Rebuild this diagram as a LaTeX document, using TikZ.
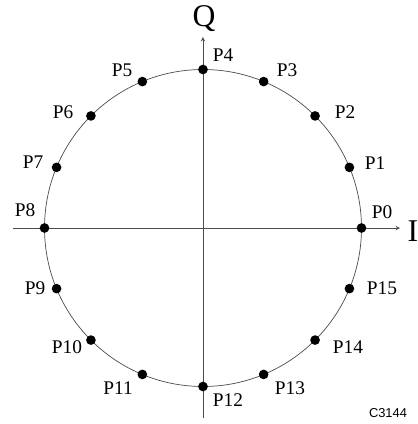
\documentclass[tikz,border=0pt]{standalone}
\usepackage{tikz}
\usepackage{xcolor}
\usepackage{fontspec}
\setmainfont{Liberation Serif}
\newfontfamily\sansfam{Liberation Sans}
\newcommand{\LP}{\fontsize{16.5}{19}\selectfont}
\newcommand{\LA}{\fontsize{27}{30}\selectfont}

\begin{document}
\begin{tikzpicture}
\tikzstyle{texto}=[draw=none,fill=none,black,font=\LP,inner sep=0pt]
\tikzstyle{eixo}=[draw=none,fill=none,black,font=\LA,inner sep=0pt]
\tikzstyle{line}=[black!70!white,line width=0.7pt]
\tikzstyle{dot}=[circle,fill=black,inner sep=0pt,minimum size=0.29cm]

\useasboundingbox (-6.09,-5.88) rectangle (6.45,6.84);

% axes
\coordinate (west) at (-5.70,0);
\coordinate (east) at (5.91,0);
\coordinate (south) at (0,-5.70);
\coordinate (north) at (0,5.73);
\draw[line,-stealth] (west) -- (east);
\draw[line,-stealth] (south) -- (north);
\draw[line,line width=0.6pt] (0,0) circle (4.755);

\node[eixo] (eI) at (6.30,-0.09) {I};
\node[eixo] (eQ) at (0.03,6.28) {Q};

% points
\node[dot] (p0)  at (0:4.755) {};
\node[dot] (p1)  at (22.5:4.755) {};
\node[dot] (p2)  at (45:4.755) {};
\node[dot] (p3)  at (67.5:4.755) {};
\node[dot] (p4)  at (90:4.755) {};
\node[dot] (p5)  at (112.5:4.755) {};
\node[dot] (p6)  at (135:4.755) {};
\node[dot] (p7)  at (157.5:4.755) {};
\node[dot] (p8)  at (180:4.755) {};
\node[dot] (p9)  at (202.5:4.755) {};
\node[dot] (p10) at (225:4.755) {};
\node[dot] (p11) at (247.5:4.755) {};
\node[dot] (p12) at (270:4.755) {};
\node[dot] (p13) at (292.5:4.755) {};
\node[dot] (p14) at (315:4.755) {};
\node[dot] (p15) at (337.5:4.755) {};

% labels
\node[texto] (l0)  at (5.37,0.48)   {P0};
\node[texto] (l1)  at (5.16,1.95)   {P1};
\node[texto] (l2)  at (4.26,3.48)   {P2};
\node[texto] (l3)  at (2.52,4.74)   {P3};
\node[texto] (l4)  at (0.60,5.19)   {P4};
\node[texto] (l5)  at (-2.43,4.74)  {P5};
\node[texto] (l6)  at (-4.20,3.48)  {P6};
\node[texto] (l7)  at (-5.10,1.98)  {P7};
\node[texto] (l8)  at (-5.34,0.54)  {P8};
\node[texto] (l9)  at (-5.04,-1.80) {P9};
\node[texto] (l10) at (-4.08,-3.57) {P10};
\node[texto] (l11) at (-2.55,-4.80) {P11};
\node[texto] (l12) at (0.75,-5.16)  {P12};
\node[texto] (l13) at (2.61,-4.80)  {P13};
\node[texto] (l14) at (4.35,-3.57)  {P14};
\node[texto] (l15) at (5.37,-1.80)  {P15};

\node[texto,font=\sansfam\fontsize{11}{13}\selectfont] (fig) at (5.55,-5.55) {C3144};
\end{tikzpicture}
\end{document}
